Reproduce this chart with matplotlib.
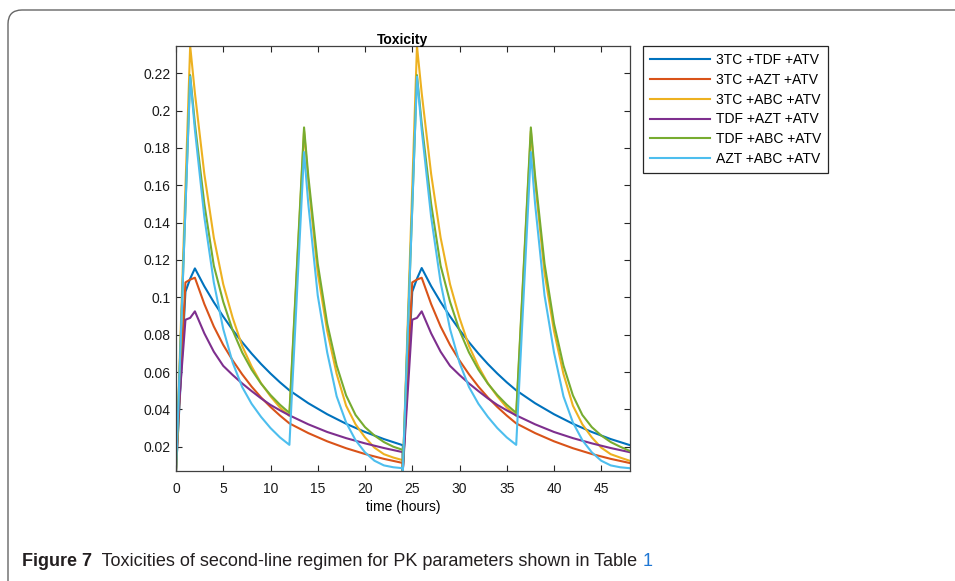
import matplotlib
matplotlib.use("Agg")
import matplotlib.pyplot as plt
from matplotlib.patches import FancyBboxPatch
from matplotlib.transforms import IdentityTransform

plt.rcParams['font.family'] = ['Liberation Sans', 'DejaVu Sans']

# time grid for the once-daily regimens (dose at 0 and 24 h)
hours_once = [0, 1, 1.5, 2, 3, 4, 5, 6, 7, 8, 9, 10, 11, 12, 14, 16, 18, 20, 22, 24,
              24, 25, 25.5, 26, 27, 28, 29, 30, 31, 32, 33, 34, 35, 36, 38, 40, 42, 44, 46, 48]
# time grid for the regimens with an extra dose at 12 and 36 h
hours_twice = [0, 1.5, 2, 3, 4, 5, 6, 7, 8, 9, 10, 11, 12, 13.55, 14, 15, 16, 17, 18, 19, 20, 21, 22, 23, 24,
               24, 25.5, 26, 27, 28, 29, 30, 31, 32, 33, 34, 35, 36, 37.55, 38, 39, 40, 41, 42, 43, 44, 45, 46, 47, 48]

tox_3tc_tdf = [0.007, 0.103, 0.110, 0.1155, 0.1059, 0.0974, 0.0897, 0.0825, 0.0760, 0.0699, 0.0643, 0.0592,
               0.0545, 0.0502, 0.0433, 0.0374, 0.0323, 0.0279, 0.0241, 0.0208,
               0.007, 0.103, 0.110, 0.1157, 0.1060, 0.0975, 0.0898, 0.0826, 0.0760, 0.0699, 0.0643, 0.0592,
               0.0545, 0.0502, 0.0433, 0.0374, 0.0323, 0.0279, 0.0241, 0.0209]
tox_3tc_azt = [0.007, 0.108, 0.1095, 0.1105, 0.0964, 0.0844, 0.0745, 0.0662, 0.0588, 0.0522, 0.0464, 0.0413,
               0.0367, 0.0325, 0.0273, 0.0229, 0.0192, 0.0161, 0.0135, 0.0113,
               0.007, 0.108, 0.1095, 0.1105, 0.0964, 0.0844, 0.0745, 0.0662, 0.0588, 0.0522, 0.0464, 0.0413,
               0.0367, 0.0325, 0.0273, 0.0229, 0.0192, 0.0161, 0.0135, 0.0113]
tox_tdf_azt = [0.021, 0.088, 0.089, 0.0925, 0.0807, 0.0709, 0.0633, 0.0584, 0.0539, 0.0498, 0.0459, 0.0424,
               0.0395, 0.0368, 0.0320, 0.0279, 0.0246, 0.0218, 0.0193, 0.0171,
               0.007, 0.088, 0.089, 0.0925, 0.0807, 0.0709, 0.0633, 0.0584, 0.0539, 0.0498, 0.0459, 0.0424,
               0.0395, 0.0368, 0.0320, 0.0279, 0.0246, 0.0218, 0.0193, 0.0171]

tox_3tc_abc = [0.007, 0.2346, 0.2094, 0.166, 0.132, 0.107, 0.089, 0.074, 0.063, 0.054, 0.047, 0.041, 0.0365,
               0.189, 0.162, 0.113, 0.082, 0.059, 0.042, 0.032, 0.025, 0.0195, 0.016, 0.0142, 0.0128,
               0.007, 0.2346, 0.2094, 0.166, 0.132, 0.107, 0.089, 0.074, 0.063, 0.054, 0.047, 0.041, 0.0365,
               0.189, 0.162, 0.113, 0.082, 0.059, 0.042, 0.032, 0.025, 0.0195, 0.016, 0.0142, 0.0125]
tox_tdf_abc = [0.007, 0.219, 0.193, 0.150, 0.117, 0.0976, 0.0823, 0.0705, 0.0613, 0.0538, 0.0477, 0.0425, 0.0381,
               0.191, 0.165, 0.118, 0.086, 0.0635, 0.0475, 0.037, 0.0305, 0.026, 0.0225, 0.020, 0.0183,
               0.007, 0.219, 0.193, 0.150, 0.117, 0.0976, 0.0823, 0.0705, 0.0613, 0.0538, 0.0477, 0.0425, 0.0381,
               0.191, 0.165, 0.118, 0.086, 0.0635, 0.0475, 0.037, 0.0305, 0.026, 0.0225, 0.020, 0.0178]
tox_azt_abc = [0.007, 0.2182, 0.1897, 0.143, 0.108, 0.083, 0.065, 0.052, 0.043, 0.036, 0.030, 0.025, 0.021,
               0.1778, 0.150, 0.101, 0.0705, 0.047, 0.033, 0.0235, 0.017, 0.0125, 0.010, 0.009, 0.0085,
               0.007, 0.2182, 0.1897, 0.143, 0.108, 0.083, 0.065, 0.052, 0.043, 0.036, 0.030, 0.025, 0.021,
               0.1778, 0.150, 0.101, 0.0705, 0.047, 0.033, 0.0235, 0.017, 0.0125, 0.010, 0.009, 0.0085]

labels = ['3TC +TDF +ATV', '3TC +AZT +ATV', '3TC +ABC +ATV',
          'TDF +AZT +ATV', 'TDF +ABC +ATV', 'AZT +ABC +ATV']
colors = ['#0072BD', '#D95319', '#EDB120', '#7E2F8E', '#77AC30', '#4DBEEE']
series = [(hours_once, tox_3tc_tdf), (hours_once, tox_3tc_azt), (hours_twice, tox_3tc_abc),
          (hours_once, tox_tdf_azt), (hours_twice, tox_tdf_abc), (hours_twice, tox_azt_abc)]

W, H = 955, 581
fig = plt.figure(figsize=(W / 100, H / 100), dpi=100)

# page frame with rounded top-left corner
frame = FancyBboxPatch((8, -60), 1100, H - 10 + 60, boxstyle="round,pad=0,rounding_size=14",
                       transform=IdentityTransform(), fill=False, ec='#666666', lw=1.0)
fig.patches.append(frame)

ax = fig.add_axes([176 / W, 1 - 471 / H, (629.6 - 176) / W, (471 - 46) / H])
for (t, v), lab, c in zip(series, labels, colors):
    ax.plot(t, v, color=c, lw=1.5, label=lab)

ax.set_xlim(0, 48)
ax.set_ylim(0.007, 0.2346)
ax.set_xticks(range(0, 50, 5))
ax.set_yticks([0.02, 0.04, 0.06, 0.08, 0.1, 0.12, 0.14, 0.16, 0.18, 0.2, 0.22])
ax.set_yticklabels(['0.02', '0.04', '0.06', '0.08', '0.1', '0.12', '0.14', '0.16', '0.18', '0.2', '0.22'])
ax.tick_params(direction='in', length=4, width=0.8, top=True, right=True,
               labelsize=10, colors='#262626', labelcolor='#1a1a1a', pad=4)
ax.tick_params(axis='x', pad=8)
for s in ax.spines.values():
    s.set_color('#404040')
    s.set_linewidth(0.9)

ax.set_title('Toxicity', fontsize=10, fontweight='bold', pad=1.5)
ax.set_xlabel('time (hours)', fontsize=10, labelpad=3)

leg = fig.legend(loc='upper left', bbox_to_anchor=(643 / W, 1 - 46 / H), fontsize=10,
                 handlelength=4.3, handletextpad=0.45, labelspacing=0.42, borderpad=0.5,
                 borderaxespad=0, fancybox=False, framealpha=1, edgecolor='#262626')
leg.get_frame().set_linewidth(0.9)

# caption, drawn piece by piece on a common baseline
fig.canvas.draw()
renderer = fig.canvas.get_renderer()
x = 22
pieces = [('Figure 7', 'bold', '#231f20'),
          ('  Toxicities of second-line regimen for PK parameters shown in Table ', 'normal', '#231f20'),
          ('1', 'normal', '#1f77d4')]
for txt, wt, c in pieces:
    tt = fig.text(x / W, 15 / H, txt, fontsize=13.0, fontweight=wt, color=c,
                  va='baseline', ha='left')
    x += tt.get_window_extent(renderer).width

fig.savefig('out.png', dpi=100)
